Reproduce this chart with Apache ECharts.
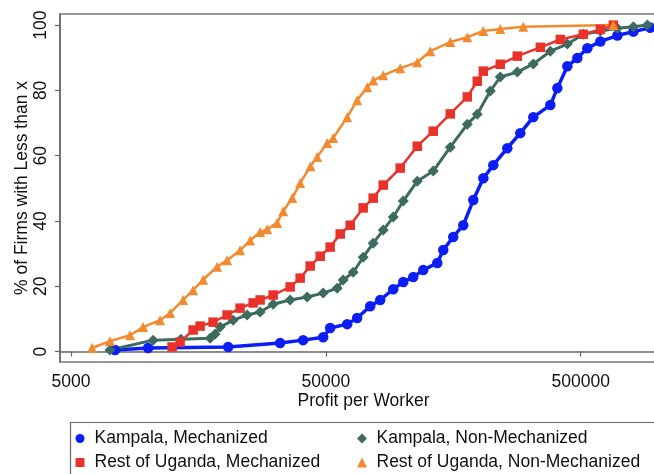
<!DOCTYPE html>
<html>
<head>
<meta charset="utf-8">
<script src="https://cdn.jsdelivr.net/npm/echarts@6/dist/echarts.min.js"></script>
<style>html,body{margin:0;padding:0;background:#fff}#c{width:654px;height:474px}</style>
</head>
<body>
<div id="c"></div>
<script>
var seriesNames = ['Kampala, Mechanized', 'Kampala, Non-Mechanized', 'Rest of Uganda, Mechanized', 'Rest of Uganda, Non-Mechanized'];
var legendIcons = ['circle', 'diamond', 'rect', 'triangle'];
var xTicks = [5000, 50000, 500000];
var yTicks = [0, 20, 40, 60, 80, 100];

var blueX = [7443, 10030, 20680, 33070, 40730, 48800, 51980, 60620, 66340, 74630, 81700, 91900, 100600, 110100, 120500, 136800, 144400, 158000, 173000, 189400, 207400, 226900, 257500, 289600, 325700, 379900, 404800, 443000, 484900, 530800, 597000, 696100, 804400, 938100, 1074000];
var blueY = [0.5, 1.1, 1.4, 2.6, 3.5, 4.4, 7.2, 8.4, 10.3, 13.9, 15.8, 19.1, 21.3, 22.8, 25, 27.1, 31.1, 35.1, 38.7, 46.4, 53.1, 57.1, 62.3, 66.9, 71.8, 75.5, 80.7, 87.4, 89.9, 92.9, 95, 96.8, 98, 99.2, 100];

var greenX = [7112, 10500, 13500, 17570, 18390, 19230, 21630, 24550, 27610, 31050, 36210, 42230, 48800, 55390, 58480, 64010, 70060, 76690, 83950, 91900, 100600, 114170, 131900, 153800, 179400, 196300, 220900, 241700, 281900, 325700, 379900, 443000, 512000, 597000, 696100, 804400, 912900];
var greenY = [0.5, 3.5, 3.8, 4.1, 5.4, 7.5, 9.6, 11.2, 12.1, 14.5, 15.8, 16.7, 17.9, 19.4, 21.9, 24.3, 28.9, 33.2, 37.2, 41.2, 46.1, 52.2, 55.3, 62.6, 69.6, 72.7, 79.8, 84.1, 85.6, 88.1, 92, 94.2, 97.2, 98.2, 99.0, 99.5, 100];

var redX = [12460, 13400, 15070, 16050, 18050, 20490, 23040, 25920, 27610, 31050, 36210, 39640, 43400, 47500, 51980, 56920, 62300, 70060, 76690, 83950, 97880, 114170, 131900, 153800, 179400, 196300, 207400, 241700, 281900, 347100, 415800, 512000, 597000, 671400];
var redY = [1.4, 2.9, 6.6, 7.8, 9.0, 11.2, 13.3, 14.9, 15.8, 17.3, 19.8, 22.5, 26.2, 29.2, 32, 36, 38.7, 44, 47, 51, 56.2, 62.9, 67.5, 72.8, 78, 82.8, 85.9, 88, 90.5, 93.2, 95.6, 97.2, 98.7, 100];

var orangeX = [6045, 7112, 8521, 9588, 11180, 12240, 13760, 15070, 16500, 18720, 20490, 23040, 25220, 27610, 29420, 32190, 34000, 36900, 39640, 43500, 46220, 50590, 53410, 60620, 66340, 72650, 76690, 83950, 97880, 114170, 128400, 153800, 179400, 207400, 241700, 297600, 671400];
var orangeY = [1.1, 3.2, 5, 7.5, 9.6, 11.8, 15.8, 18.8, 22, 26, 28, 31, 34, 36.6, 37.5, 39.4, 43, 47, 51.6, 56.8, 59.6, 63.9, 65.4, 71.8, 77, 81, 83, 84.6, 86.8, 88.6, 92, 94.8, 96.3, 98.2, 98.8, 99.5, 100];

function zip(xs, ys) { return xs.map(function (x, i) { return [x, ys[i]]; }); }

var FONT = 'Liberation Sans, Arial, Helvetica, sans-serif';
var FS = 17.5;

function mk(name, xs, ys, color, symbol, size, lw) {
  return {
    name: name, type: 'line', data: zip(xs, ys),
    symbol: symbol, symbolSize: size, showSymbol: true,
    lineStyle: { color: color, width: lw },
    itemStyle: { color: color, borderWidth: 0 },
    emphasis: { disabled: true }, animation: false, clip: true
  };
}

var legendPos = [[75.5, 429.5], [357.5, 429.5], [75.5, 453.5], [357.5, 453.5]];
var legendIconSize = [9, 10, 9, 10];
var legends = seriesNames.map(function (n, i) {
  var s = legendIconSize[i];
  return {
    left: legendPos[i][0] + (9 - s) / 2, top: legendPos[i][1], padding: 0,
    orient: 'horizontal', itemWidth: s, itemHeight: s, itemGap: 0,
    selectedMode: false,
    textStyle: { fontFamily: FONT, fontSize: FS, color: '#111', lineHeight: 18, padding: [0, 0, 0, 5 - (s - 9) / 2] },
    data: [{ name: n, icon: legendIcons[i] }]
  };
});

var chart = echarts.init(document.getElementById('c'), null, { renderer: 'canvas' });
chart.setOption({
  animation: false,
  backgroundColor: '#fff',
  grid: { left: 60, top: 14, right: -13, bottom: 112, outerBoundsMode: 'none', containLabel: false, show: true, borderColor: '#777', borderWidth: 1.5, backgroundColor: 'transparent' },
  xAxis: {
    type: 'log', logBase: 10, min: 4527, max: 1090000,
    name: 'Profit per Worker', nameLocation: 'middle', nameGap: 30, nameMoveOverlap: false,
    nameTextStyle: { fontFamily: FONT, fontSize: FS, color: '#111' },
    axisLine: { show: true, lineStyle: { color: '#666', width: 1.5 } },
    axisTick: { show: true, length: 5, lineStyle: { color: '#666', width: 1.2 }, customValues: xTicks },
    axisLabel: { fontFamily: FONT, fontSize: FS, color: '#111', margin: 11, customValues: xTicks, formatter: function (v) { return String(Math.round(v)); } },
    splitLine: { show: false }, minorTick: { show: false }
  },
  yAxis: {
    type: 'value', min: -3.2, max: 103.4,
    name: '% of Firms with Less than x', nameLocation: 'middle', nameGap: 29, nameMoveOverlap: false,
    nameTextStyle: { fontFamily: FONT, fontSize: FS, color: '#111' },
    axisLine: { show: true, lineStyle: { color: '#666', width: 1.5 } },
    axisTick: { show: true, length: 5, lineStyle: { color: '#666', width: 1.2 }, customValues: yTicks },
    axisLabel: { fontFamily: FONT, fontSize: FS, color: '#111', margin: 10, rotate: 90, customValues: yTicks },
    splitLine: { show: false }
  },
  legend: legends,
  graphic: [{
    type: 'rect', left: 68, top: 420, silent: true, z: 0,
    shape: { width: 700, height: 100 },
    style: { fill: 'none', stroke: '#666', lineWidth: 1.2 }
  }],
  series: [
    mk(seriesNames[0], blueX, blueY, '#0a1ef5', 'circle', 10.5, 3.5),
    mk(seriesNames[1], greenX, greenY, '#3d6b60', 'diamond', 11, 3),
    mk(seriesNames[2], redX, redY, '#e8322a', 'rect', 9.5, 2.5),
    mk(seriesNames[3], orangeX, orangeY, '#f28a30', 'triangle', 10, 2.5)
  ]
});
</script>
</body>
</html>
